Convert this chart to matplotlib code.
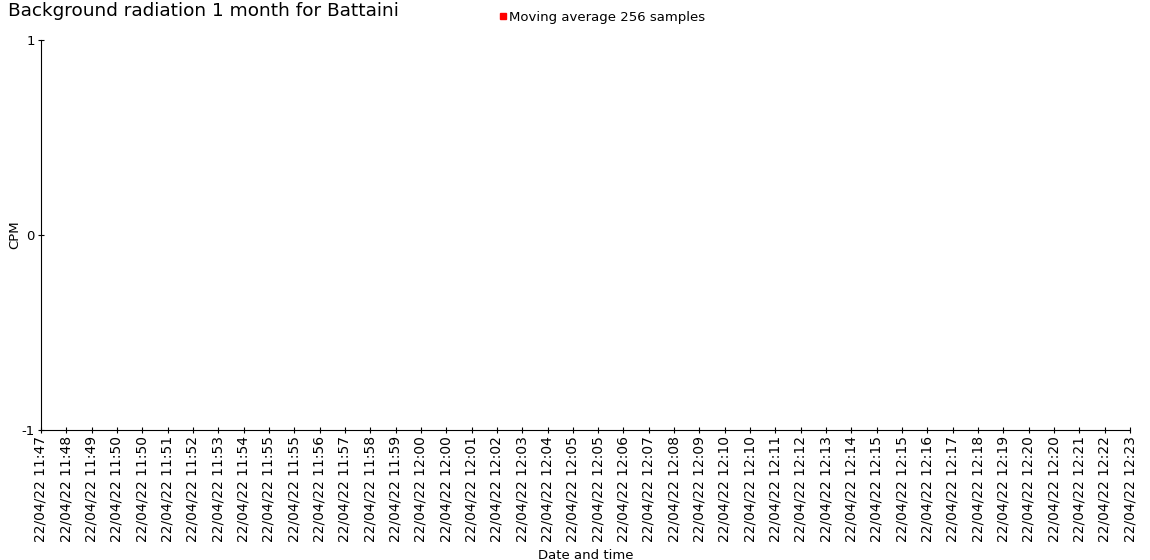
import numpy as np
import matplotlib
matplotlib.use("Agg")
import matplotlib.pyplot as plt
from matplotlib.lines import Line2D

title = "Background radiation 1 month for Battaini"
series_name = "Moving average 256 samples"
x_labels = [
    "22/04/22 11:47", "22/04/22 11:48", "22/04/22 11:49", "22/04/22 11:50",
    "22/04/22 11:50", "22/04/22 11:51", "22/04/22 11:52", "22/04/22 11:53",
    "22/04/22 11:54", "22/04/22 11:55", "22/04/22 11:55", "22/04/22 11:56",
    "22/04/22 11:57", "22/04/22 11:58", "22/04/22 11:59", "22/04/22 12:00",
    "22/04/22 12:00", "22/04/22 12:01", "22/04/22 12:02", "22/04/22 12:03",
    "22/04/22 12:04", "22/04/22 12:05", "22/04/22 12:05", "22/04/22 12:06",
    "22/04/22 12:07", "22/04/22 12:08", "22/04/22 12:09", "22/04/22 12:10",
    "22/04/22 12:10", "22/04/22 12:11", "22/04/22 12:12", "22/04/22 12:13",
    "22/04/22 12:14", "22/04/22 12:15", "22/04/22 12:15", "22/04/22 12:16",
    "22/04/22 12:17", "22/04/22 12:18", "22/04/22 12:19", "22/04/22 12:20",
    "22/04/22 12:20", "22/04/22 12:21", "22/04/22 12:22", "22/04/22 12:23",
]
# No data is shown in the chart: the series is empty
cpm_values = [np.nan] * len(x_labels)
y_ticks = [-1, 0, 1]

plt.rcParams['font.family'] = ['DejaVu Sans']

fig = plt.figure(figsize=(11.5, 5.6), dpi=100)
ax = fig.add_axes([41/1150, 1 - 430/560, (1130 - 41)/1150, (430 - 40)/560])

x = np.arange(len(x_labels))
ax.plot(x, cpm_values, color="#ff0000", linewidth=1)

ax.set_xlim(0, len(x_labels) - 1)
ax.set_ylim(-1, 1)
ax.set_xticks(x)
ax.set_xticklabels(x_labels, rotation=90, fontsize=10)
ax.set_yticks(y_ticks)
ax.set_yticklabels([str(v) for v in y_ticks], fontsize=9.5)

for side in ("top", "right"):
    ax.spines[side].set_visible(False)
for side in ("left", "bottom"):
    ax.spines[side].set_linewidth(0.8)
    ax.spines[side].set_color("black")

ax.tick_params(axis="both", direction="inout", length=5, width=0.8, color="black", pad=2)

ax.set_xlabel("Date and time", fontsize=9.5, labelpad=0)
ax.xaxis.set_label_coords(0.5, -0.305)
ax.set_ylabel("CPM", fontsize=9.5)
ax.yaxis.set_label_coords(-0.018, 0.5)

fig.text(8/1150, 1 - 11/560, title, fontsize=13.3, ha="left", va="center")

handle = Line2D([], [], color="#ff0000", marker="s", linestyle="none", markersize=4.5)
fig.legend([handle], [series_name], loc="center left",
           bbox_to_anchor=(496/1150, 1 - 17/560), frameon=False,
           fontsize=9.5, handletextpad=0.0, borderpad=0, borderaxespad=0,
           handlelength=1.0)

fig.savefig("out.png", dpi=100, facecolor="white")
